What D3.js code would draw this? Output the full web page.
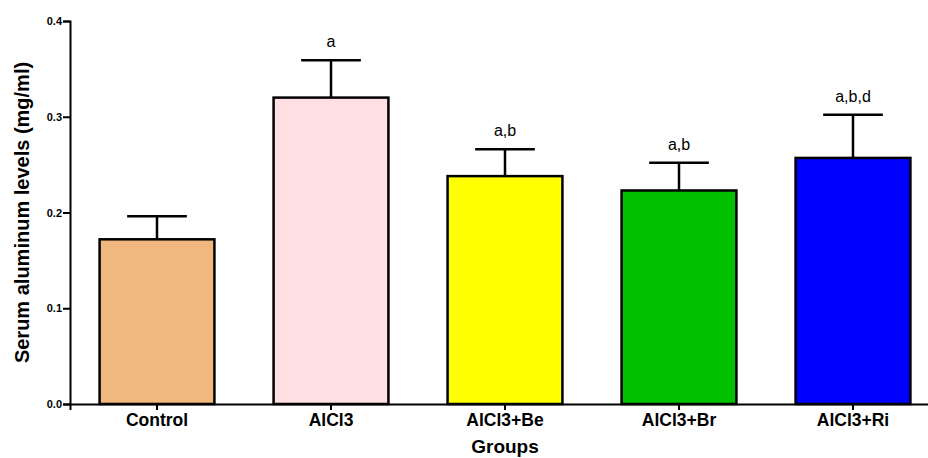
<!DOCTYPE html>
<html>
<head>
<meta charset="utf-8">
<script src="https://cdn.jsdelivr.net/npm/d3@7"></script>
<style>
  body { margin: 0; background: #fff; }
  svg { display: block; font-family: Arial, "Liberation Sans", sans-serif; }
</style>
</head>
<body>
<svg id="chart"></svg>
<script>
// data
const groups = ["Control", "AlCl3", "AlCl3+Be", "AlCl3+Br", "AlCl3+Ri"]
const means = [0.172, 0.320, 0.238, 0.223, 0.257]
const errors = [0.024, 0.039, 0.028, 0.029, 0.045]
const sigLabels = ["", "a", "a,b", "a,b", "a,b,d"]
const colors = ["#F0B77E", "#FFDFE1", "#FFFF00", "#00C000", "#0000FF"]
const yTicks = [0.0, 0.1, 0.2, 0.3, 0.4]

const width = 928
const height = 458
const margin = { top: 21, right: -12, bottom: 54, left: 70 }

const svg = d3.select("#chart")
    .attr("width", width)
    .attr("height", height)

const x = d3.scaleBand()
    .domain(groups)
    .range([margin.left, width - margin.right])
    .paddingInner(0.34)
    .paddingOuter(0.17)

const y = d3.scaleLinear()
    .domain([0, 0.4])
    .range([height - margin.bottom, margin.top])

const rows = groups.map((g, i) => ({
  group: g, mean: means[i], err: errors[i], label: sigLabels[i], color: colors[i]
}))

// bars
svg.append("g")
  .selectAll("rect")
  .data(rows)
  .join("rect")
    .attr("x", d => x(d.group))
    .attr("y", d => y(d.mean))
    .attr("width", x.bandwidth())
    .attr("height", d => y(0) - y(d.mean))
    .attr("fill", d => d.color)
    .attr("stroke", "#000")
    .attr("stroke-width", 2.5)

// error bars (upper only)
const capHalf = x.bandwidth() * 0.26
const eb = svg.append("g")
  .attr("stroke", "#000")
  .attr("stroke-width", 2.5)
  .selectAll("g")
  .data(rows)
  .join("g")

eb.append("line")
  .attr("x1", d => x(d.group) + x.bandwidth() / 2)
  .attr("x2", d => x(d.group) + x.bandwidth() / 2)
  .attr("y1", d => y(d.mean))
  .attr("y2", d => y(d.mean + d.err))

eb.append("line")
  .attr("x1", d => x(d.group) + x.bandwidth() / 2 - capHalf)
  .attr("x2", d => x(d.group) + x.bandwidth() / 2 + capHalf)
  .attr("y1", d => y(d.mean + d.err))
  .attr("y2", d => y(d.mean + d.err))

// significance letters
svg.append("g")
  .selectAll("text")
  .data(rows)
  .join("text")
    .attr("x", d => x(d.group) + x.bandwidth() / 2)
    .attr("y", d => y(d.mean + d.err) - 13)
    .attr("text-anchor", "middle")
    .style("font-size", "16px")
    .text(d => d.label)

// y axis
const yAxis = svg.append("g")
  .attr("transform", `translate(${margin.left},0)`)
  .call(d3.axisLeft(y).tickValues(yTicks).tickFormat(d3.format(".1f")).tickSizeOuter(0).tickSize(7).tickPadding(1))
yAxis.select(".domain").attr("stroke-width", 2)
yAxis.selectAll(".tick line").attr("stroke-width", 2)
yAxis.selectAll(".tick text")
  .style("font-size", "11px")
  .style("font-weight", "bold")
  .attr("font-family", null)

// x axis
const xAxis = svg.append("g")
  .attr("transform", `translate(0,${y(0)})`)
  .call(d3.axisBottom(x).tickSizeOuter(0).tickSize(6).tickPadding(4))
xAxis.select(".domain").attr("stroke-width", 2)
xAxis.selectAll(".tick line").attr("stroke-width", 2)
xAxis.selectAll(".tick text")
  .style("font-size", "17.5px")
  .style("font-weight", "bold")
  .attr("font-family", null)

// axis titles
svg.append("text")
  .attr("x", (margin.left + width - margin.right) / 2)
  .attr("y", 453)
  .attr("text-anchor", "middle")
  .style("font-size", "19px")
  .style("font-weight", "bold")
  .text("Groups")

svg.append("text")
  .attr("transform", `translate(29,${(y(0) + y(0.4)) / 2}) rotate(-90)`)
  .attr("text-anchor", "middle")
  .style("font-size", "20px")
  .style("font-weight", "bold")
  .text("Serum aluminum levels (mg/ml)")
</script>
</body>
</html>
